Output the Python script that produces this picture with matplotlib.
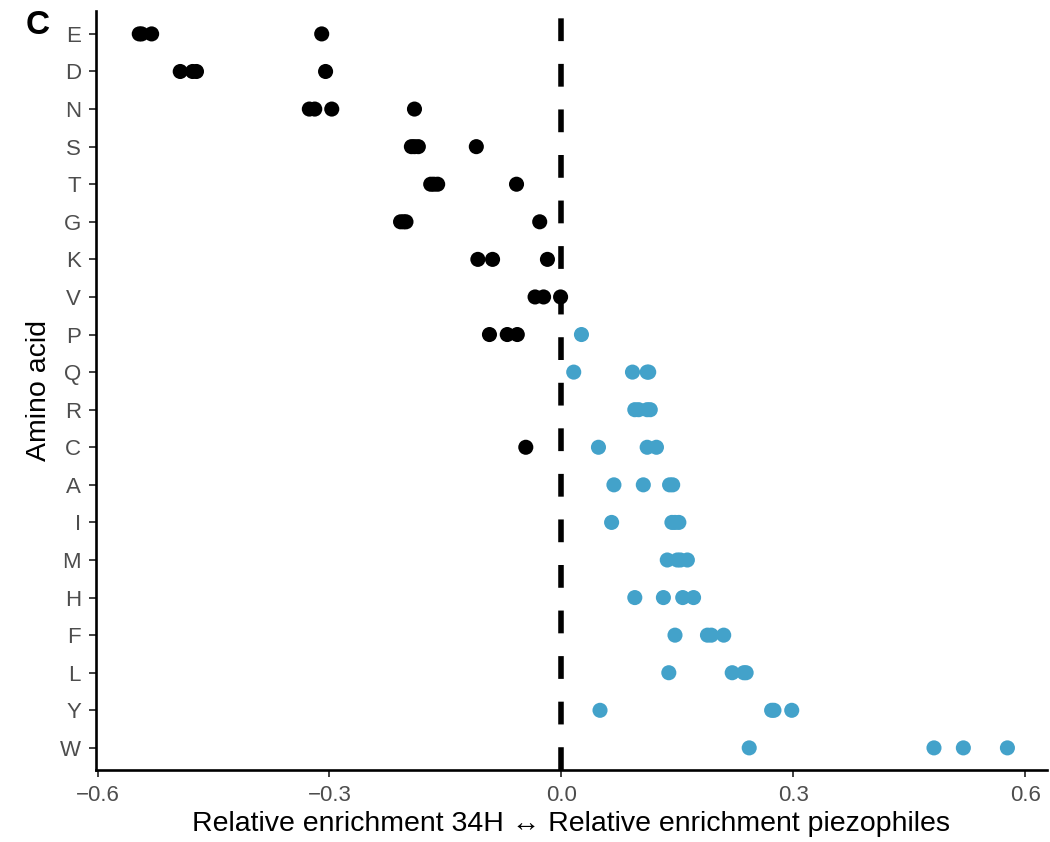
import numpy as np
import matplotlib.pyplot as plt

plt.rcParams['font.family'] = ['Liberation Sans', 'DejaVu Sans']

# amino acids, top to bottom
amino = ["E", "D", "N", "S", "T", "G", "K", "V", "P", "Q",
         "R", "C", "A", "I", "M", "H", "F", "L", "Y", "W"]

# relative enrichment values (4 comparisons per amino acid)
E = [-0.546, -0.543, -0.530, -0.310]
D = [-0.493, -0.477, -0.472, -0.305]
N = [-0.326, -0.319, -0.297, -0.190]
S = [-0.194, -0.190, -0.185, -0.110]
T = [-0.169, -0.165, -0.160, -0.058]
G = [-0.208, -0.204, -0.201, -0.028]
K = [-0.108, -0.089, -0.018]
V = [-0.034, -0.023, -0.001]
P = [-0.093, -0.070, -0.057, 0.026]
Q = [0.016, 0.092, 0.111, 0.113]
R = [0.095, 0.100, 0.111, 0.115]
C = [-0.046, 0.048, 0.111, 0.123]
A = [0.068, 0.106, 0.140, 0.144]
I = [0.065, 0.143, 0.147, 0.152]
M = [0.137, 0.150, 0.154, 0.163]
H = [0.095, 0.132, 0.157, 0.171]
F = [0.147, 0.189, 0.194, 0.210]
L = [0.139, 0.221, 0.239, 0.236]
Y = [0.050, 0.272, 0.275, 0.298]
W = [0.243, 0.482, 0.520, 0.577]

values = [E, D, N, S, T, G, K, V, P, Q, R, C, A, I, M, H, F, L, Y, W]

fig = plt.figure(figsize=(10.5, 8.42), dpi=100)
ax = fig.add_axes([0.0914, 0.085, 0.9056, 0.9015])

blue = "#43a2ca"
for i, vals in enumerate(values):
    v = np.array(vals)
    cols = np.where(v > 0, blue, "black")
    ax.scatter(v, np.full(len(v), i), c=cols, s=118, linewidths=0, zorder=3)

ax.axvline(0, color="black", lw=4, dashes=(4.1, 4.1), zorder=2)

ax.set_yticks(range(len(amino)))
ax.set_yticklabels(amino)
ax.set_ylim(len(amino) - 0.4, -0.6)
ax.set_xlim(-0.602, 0.628)
ax.set_xticks([-0.6, -0.3, 0.0, 0.3, 0.6])
ax.set_xticklabels(["\u22120.6", "\u22120.3", "0.0", "0.3", "0.6"])

for s in ["top", "right"]:
    ax.spines[s].set_visible(False)
for s in ["left", "bottom"]:
    ax.spines[s].set_linewidth(1.9)
ax.tick_params(axis="both", direction="out", length=4.8, width=1.3, color="#333333",
               labelsize=16, labelcolor="#4d4d4d")
ax.tick_params(axis="y", pad=6)
ax.tick_params(axis="x", pad=6)

ax.set_xlabel("Relative enrichment 34H \u2194 Relative enrichment piezophiles", fontsize=20.5, labelpad=3)
ax.set_ylabel("Amino acid", fontsize=20.5, labelpad=6)

fig.text(0.024, 0.970, "C", fontsize=24, fontweight="bold", va="center")

fig.savefig("out.png", dpi=100)
